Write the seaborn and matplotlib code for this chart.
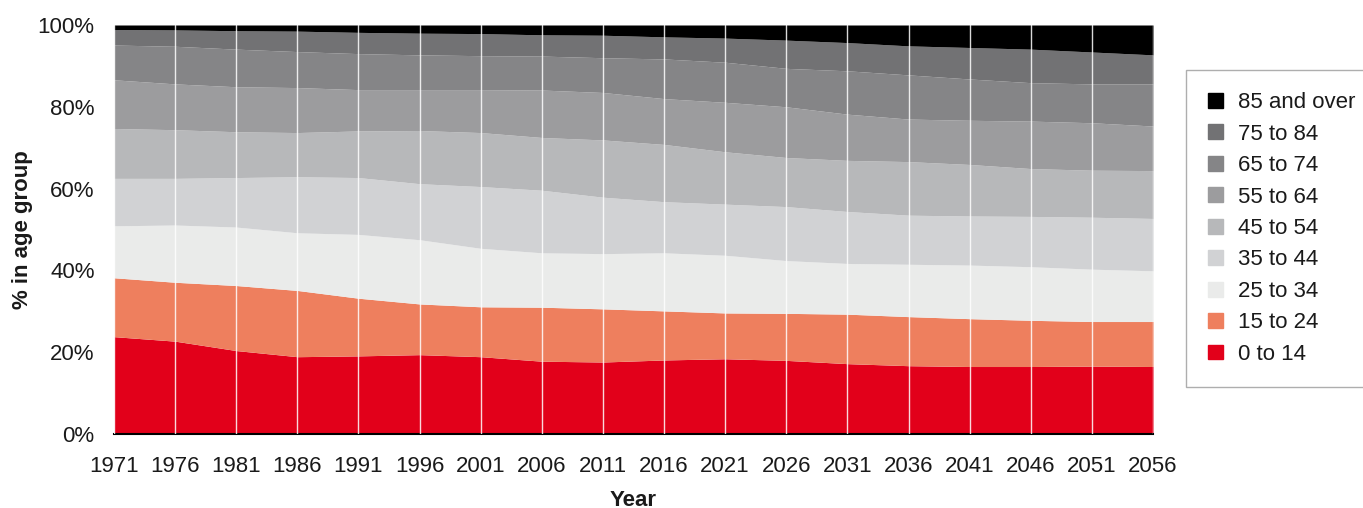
import matplotlib
matplotlib.use("Agg")
import matplotlib.pyplot as plt
import matplotlib.patches as mpatches
import seaborn as sns

sns.set_theme(style="white")
plt.rcParams['font.family'] = ['Liberation Sans', 'DejaVu Sans']

# Share of population (%) in each age group, by year
years = [1971, 1976, 1981, 1986, 1991, 1996, 2001, 2006, 2011,
         2016, 2021, 2026, 2031, 2036, 2041, 2046, 2051, 2056]
age_0_14 = [23.8, 22.7, 20.4, 18.9, 19.1, 19.4, 18.9, 17.8, 17.6,
            18.1, 18.4, 18.0, 17.2, 16.7, 16.5, 16.5, 16.6, 16.5]
age_15_24 = [14.4, 14.4, 15.9, 16.2, 14.1, 12.4, 12.2, 13.2, 13.0,
             12.0, 11.2, 11.5, 12.1, 12.0, 11.7, 11.3, 10.9, 11.0]
age_25_34 = [12.7, 14.0, 14.3, 14.1, 15.6, 15.7, 14.3, 13.3, 13.5,
             14.2, 14.1, 12.9, 12.4, 12.8, 13.1, 13.1, 12.8, 12.4]
age_35_44 = [11.6, 11.4, 12.1, 13.7, 13.9, 13.7, 15.1, 15.3, 13.8,
             12.5, 12.5, 13.2, 12.7, 12.0, 12.0, 12.3, 12.7, 12.8]
age_45_54 = [12.2, 11.9, 11.2, 10.8, 11.4, 13.0, 13.2, 12.9, 14.0,
             14.0, 12.8, 12.0, 12.5, 13.1, 12.6, 11.7, 11.5, 11.7]
age_55_64 = [11.9, 11.2, 11.0, 11.0, 10.1, 10.0, 10.5, 11.6, 11.6,
             11.2, 12.1, 12.4, 11.3, 10.4, 10.8, 11.6, 11.6, 10.9]
age_65_74 = [8.5, 9.2, 9.2, 8.8, 8.8, 8.5, 8.3, 8.3, 8.5,
             9.7, 9.8, 9.4, 10.6, 10.8, 10.1, 9.4, 9.5, 10.3]
age_75_84 = [3.8, 4.0, 4.5, 5.0, 5.2, 5.3, 5.4, 5.2, 5.5,
             5.4, 5.9, 6.9, 6.9, 7.1, 7.7, 8.2, 7.8, 7.1]
age_85_plus = [1.1, 1.2, 1.4, 1.5, 1.8, 2.0, 2.1, 2.4, 2.5,
               2.9, 3.2, 3.7, 4.3, 5.1, 5.5, 5.9, 6.6, 7.3]

labels = ["0 to 14", "15 to 24", "25 to 34", "35 to 44", "45 to 54",
          "55 to 64", "65 to 74", "75 to 84", "85 and over"]
colors = ["#E2001A", "#EE7F5E", "#EAEBEA", "#D1D2D4", "#B7B8BA",
          "#9C9C9E", "#858587", "#727274", "#000000"]

series = [age_0_14, age_15_24, age_25_34, age_35_44, age_45_54,
          age_55_64, age_65_74, age_75_84, age_85_plus]

FS = 16

fig = plt.figure(figsize=(13.63, 5.08), dpi=100)
ax = fig.add_axes([114 / 1363, 1 - 434 / 508, (1153 - 114) / 1363, (434 - 25) / 508])

ax.stackplot(years, *series, colors=colors, labels=labels, lw=0)

# thin white vertical gridlines on top of the areas
ax.set_xticks(years)
ax.xaxis.grid(True, color="white", lw=1.0, alpha=0.85)
ax.yaxis.grid(False)
ax.set_axisbelow(False)

ax.set_xlim(years[0], years[-1])
ax.set_ylim(0, 100)
ax.set_yticks([0, 20, 40, 60, 80, 100])
ax.set_yticklabels([f"{v}%" for v in [0, 20, 40, 60, 80, 100]])
ax.tick_params(axis="both", length=0, labelsize=FS, colors="#1a1a1a")
ax.tick_params(axis="x", pad=16)
ax.tick_params(axis="y", pad=14)

for side in ["top", "right", "left"]:
    ax.spines[side].set_visible(False)
ax.spines["bottom"].set_color("black")
ax.spines["bottom"].set_linewidth(1.5)

ax.set_xlabel("Year", fontsize=FS, fontweight="bold", labelpad=9, color="#1a1a1a")
ax.set_ylabel("% in age group", fontsize=FS, fontweight="bold", labelpad=3, color="#1a1a1a")

handles = [mpatches.Patch(color=c, label=l) for c, l in zip(colors, labels)][::-1]
leg = fig.legend(handles=handles, loc="upper left",
                 bbox_to_anchor=(1186 / 1363, 1 - 385 / 508, 200 / 1363, 315 / 508),
                 mode="expand",
                 frameon=True, fontsize=FS, handlelength=0.65, handleheight=0.65,
                 handletextpad=0.7, labelspacing=0.47, borderpad=1.0,
                 borderaxespad=0, fancybox=False)
leg.get_frame().set_edgecolor("#9a9a9a")
leg.get_frame().set_linewidth(1.0)
for t in leg.get_texts():
    t.set_color("#1a1a1a")

fig.savefig("out.png", dpi=100)
